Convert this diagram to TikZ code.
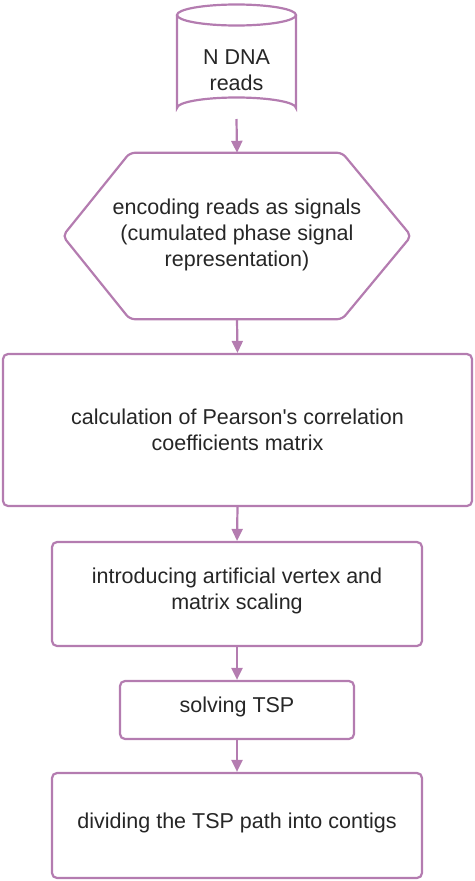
\documentclass[tikz,border=0pt]{standalone}
\usepackage{fontspec}
\setmainfont{Liberation Sans}
\usetikzlibrary{arrows.meta,calc}
\definecolor{edgec}{RGB}{180,124,176}
\definecolor{txtc}{RGB}{38,38,38}
\tikzset{
  boxstyle/.style={draw=edgec, line width=2.2pt, rounded corners=5pt, fill=white},
  txt/.style={text=txtc, align=center, font=\fontsize{21.5}{26}\selectfont, inner sep=0pt},
  flow/.style={draw=edgec, line width=2.2pt, -{Triangle[length=12pt,width=11pt]}}
}
\begin{document}
\begin{tikzpicture}[x=1pt,y=-1pt]
\useasboundingbox (0,0) rectangle (474,881);
% cylinder
\draw[draw=edgec, line width=2.2pt, fill=white]
  (177,15) -- (177,108) arc[start angle=180, end angle=360, x radius=59.5, y radius=10.5] -- (296,15);
\draw[draw=edgec, line width=2.2pt] (236.5,15) ellipse[x radius=59.5, y radius=10.5];
\node[txt] (db) at (236.5,70) {N DNA\\reads};
\coordinate (dbbot) at (236.5,119);
% hexagon
\node[minimum width=348pt, minimum height=166pt, inner sep=0pt] (enc) at (237,236) {};
\draw[draw=edgec, line width=2.2pt, rounded corners=5pt]
  (enc.west) -- ($(enc.north west)+(67,0)$) -- ($(enc.north east)+(-69,0)$) -- (enc.east)
  -- ($(enc.south east)+(-69,0)$) -- ($(enc.south west)+(67,0)$) -- cycle;
\node[txt] at (237,235) {encoding reads as signals\\(cumulated phase signal\\representation)};
% rectangles
\node[boxstyle, minimum width=469pt, minimum height=152pt] (pear) at (237.5,430) {};
\node[txt] at (237.5,430) {calculation of Pearson\textquotesingle s correlation\\coefficients matrix};
\node[boxstyle, minimum width=370pt, minimum height=104pt] (intro) at (237,594) {};
\node[txt] at (237,591) {introducing artificial vertex and\\matrix scaling};
\node[boxstyle, minimum width=234pt, minimum height=58pt] (tsp) at (237,710) {};
\node[txt] at (237,707) {solving TSP};
\node[boxstyle, minimum width=370pt, minimum height=105pt] (div) at (237,825.5) {};
\node[txt] at (237,823) {dividing the TSP path into contigs};
% arrows
\draw[flow] (dbbot) -- (enc.north);
\draw[flow] (enc.south) -- (pear.north);
\draw[flow] (pear.south) -- (intro.north);
\draw[flow] (intro.south) -- (tsp.north);
\draw[flow] (tsp.south) -- (div.north);
\end{tikzpicture}
\end{document}
